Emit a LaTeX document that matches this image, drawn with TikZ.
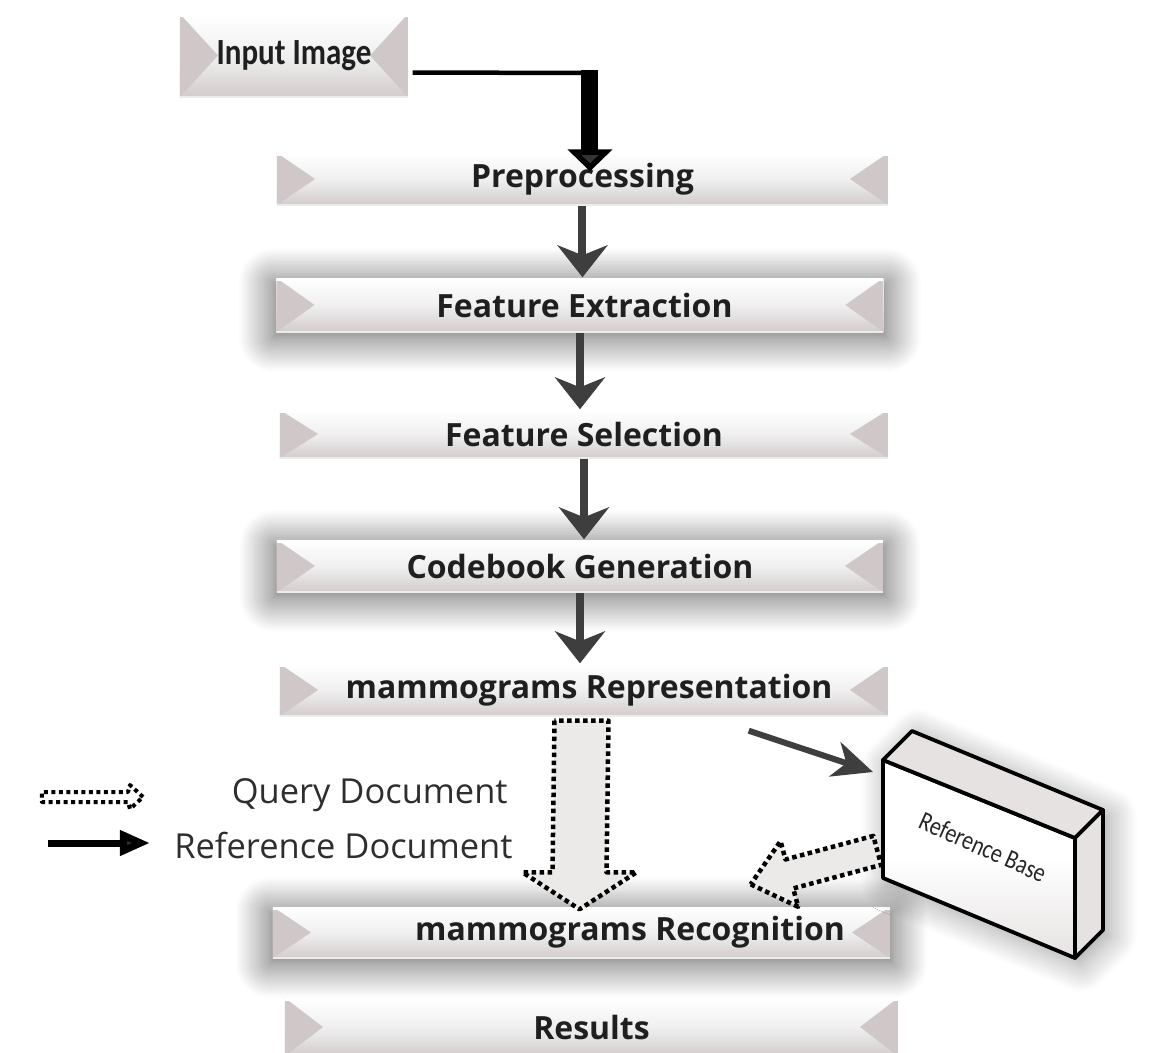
\documentclass[tikz,border=0pt]{standalone}
\usepackage{fontspec}
\setmainfont{Open Sans}
\newfontfamily\calfont{Carlito}
\usetikzlibrary{arrows.meta,calc,shadows.blur}
\definecolor{barlow}{HTML}{D3CCCC}
\definecolor{bevelgray}{HTML}{D0C8C8}
\definecolor{arrowgray}{HTML}{3E3E3E}
\definecolor{qfill}{HTML}{ECE9E9}
\definecolor{boxside}{HTML}{E6E2E2}

\begin{document}
\begin{tikzpicture}
    % Styles
    \tikzstyle{stage} = [rectangle, inner sep=0pt, minimum width=6.1cm, minimum height=0.52cm, top color=white, bottom color=barlow, middle color=black!6, text=black!88, font=\bfseries\fontsize{9.1}{11}\selectfont,
        path picture={
            \fill[bevelgray] (path picture bounding box.north west) -- ([xshift=0.38cm]path picture bounding box.west) -- (path picture bounding box.south west) -- cycle;
            \fill[bevelgray] (path picture bounding box.north east) -- ([xshift=-0.38cm]path picture bounding box.east) -- (path picture bounding box.south east) -- cycle;
            \draw[white, line width=0.05cm] (path picture bounding box.north west) -- (path picture bounding box.north east);
            \draw[white!85!gray, line width=0.03cm] (path picture bounding box.south west) -- (path picture bounding box.south east);
        }]
    \tikzstyle{stageglow} = [stage, blur shadow={shadow xshift=0cm, shadow yshift=-0.05cm, shadow scale=1.01, shadow blur radius=0.34cm, shadow blur steps=16, shadow opacity=65}]
    \tikzstyle{flow} = [draw=arrowgray, line width=0.08cm, -{Stealth[length=0.32cm, width=0.5cm, inset=0.1cm]}]
    \tikzstyle{dots} = [draw=black, line width=0.045cm, dash pattern=on 0.045cm off 0.035cm, fill=qfill, line join=round]

    \useasboundingbox (0,0) rectangle (11.59,-10.53);
    \clip (0,0) rectangle (11.59,-10.53);

    % Stages
    \node[stage, minimum width=2.28cm, minimum height=0.83cm, font=\calfont\bfseries\fontsize{10.5}{12}\selectfont] (input) at (2.94,-0.555) {\scalebox{0.84}[1]{Input Image}};
    \node[stage, minimum width=6.11cm] (pre) at (5.825,-1.79) {Preprocessing};
    \node[stageglow, minimum width=6.07cm, minimum height=0.54cm] (fe) at (5.80,-3.05) {\hspace*{0.09cm}Feature Extraction};
    \node[stage, minimum width=6.08cm, minimum height=0.48cm] (fs) at (5.84,-4.34) {Feature Selection};
    \node[stageglow, minimum width=6.06cm] (cg) at (5.80,-5.66) {Codebook Generation};
    \node[stage, minimum width=6.08cm] (rep) at (5.84,-6.90) {\hspace*{0.1cm}mammograms Representation};
    \node[stageglow, minimum width=6.17cm, minimum height=0.51cm] (recog) at (5.815,-9.325) {\hspace*{0.97cm}mammograms Recognition};
    \node[stage, minimum width=6.13cm, minimum height=0.58cm] (res) at (5.915,-10.27) {Results};

    % Reference base
    \coordinate (rbA) at (8.83,-7.60);
    \coordinate (rbB) at (9.12,-7.31);
    \coordinate (rbC) at (11.03,-8.10);
    \coordinate (rbD) at (10.75,-8.38);
    \coordinate (rbE) at (10.75,-9.58);
    \coordinate (rbF) at (11.03,-9.30);
    \coordinate (rbG) at (8.83,-8.78);
    \fill[white, blur shadow={shadow xshift=0.06cm, shadow yshift=-0.06cm, shadow blur radius=0.28cm, shadow blur steps=14, shadow opacity=40}] (rbA) -- (rbB) -- (rbC) -- (rbF) -- (rbE) -- (rbG) -- cycle;
    \draw[line width=0.038cm, line join=round, top color=white, bottom color=boxside, middle color=white] (rbA) -- (rbD) -- (rbE) -- (rbG) -- cycle;
    \draw[line width=0.038cm, line join=round, fill=boxside] (rbA) -- (rbB) -- (rbC) -- (rbD) -- cycle;
    \draw[line width=0.038cm, line join=round, fill=boxside] (rbD) -- (rbC) -- (rbF) -- (rbE) -- cycle;
    \node[rotate=-24, font=\calfont\fontsize{7.6}{9}\selectfont, text=black!85] (rbtext) at (9.83,-8.47) {\scalebox{0.82}[1]{Reference Base}};

    % Connectors
    \coordinate (inbend) at (5.90,-0.70);
    \draw[line width=0.045cm] ($(input.east)+(0.04,-0.17)$) -- ($(inbend)+(0,-0.03)$);
    \draw[line width=0.17cm, -{Triangle[length=0.22cm, width=0.44cm]}] (inbend) -- ($(inbend |- pre.north)+(0,-0.19)$);
    \draw[flow] (pre.south) -- (pre.south |- fe.north);
    \draw[flow] (fe.south) -- (fe.south |- fs.north);
    \draw[flow] (fs.south) -- (fs.south |- cg.north);
    \draw[flow] (cg.south) -- (cg.south |- rep.north);
    \draw[draw=arrowgray, line width=0.06cm, -{Stealth[length=0.4cm, width=0.36cm, inset=0.12cm]}] ($(rep.south east)+(-1.40,-0.14)$) -- ($(rbA)+(-0.10,-0.12)$);

    % Query arrow
    \coordinate (qa) at ($(recog.north |- rep.south)+(0,-0.04)$);
    \coordinate (qb) at ($(recog.north)+(-0.02,-0.03)$);
    \draw[dots] ($(qa)+(-0.27,0)$) -- ($(qb)+(-0.27,0.37)$) -- ($(qb)+(-0.57,0.37)$) -- (qb) -- ($(qb)+(0.57,0.37)$) -- ($(qb)+(0.27,0.37)$) -- ($(qa)+(0.27,0)$) -- cycle;

    % Reference base to recognition
    \coordinate (rbtip) at ($(recog.north east)+(-1.40,0.22)$);
    \begin{scope}[shift={(rbtip)}, rotate=195]
        \draw[dots] (0,0) -- (-0.40,0.34) -- (-0.40,0.15) -- (-1.31,0.15) -- (-1.31,-0.15) -- (-0.40,-0.15) -- (-0.40,-0.34) -- cycle;
    \end{scope}

    % Legend
    \coordinate (qkey) at (1.43,-7.97);
    \draw[dots, line width=0.04cm, dash pattern=on 0.04cm off 0.035cm, fill=none] (qkey) -- ++(-0.13,0.12) -- ++(-0.02,-0.07) -- ++(-0.86,0) -- ++(0,-0.10) -- ++(0.86,0) -- ++(0.02,-0.07) -- cycle;
    \node[anchor=east, font=\fontsize{9.8}{11}\selectfont, text=black!82] (qlegend) at (5.20,-7.95) {Query Document};
    \coordinate (rkeyA) at (0.48,-8.43);
    \coordinate (rkeyB) at (1.50,-8.43);
    \draw[line width=0.07cm, -{Triangle[length=0.3cm, width=0.24cm]}] (rkeyA) -- (rkeyB);
    \node[anchor=east, font=\fontsize{9.8}{11}\selectfont, text=black!82] (rlegend) at (5.25,-8.45) {Reference Document};
\end{tikzpicture}
\end{document}
